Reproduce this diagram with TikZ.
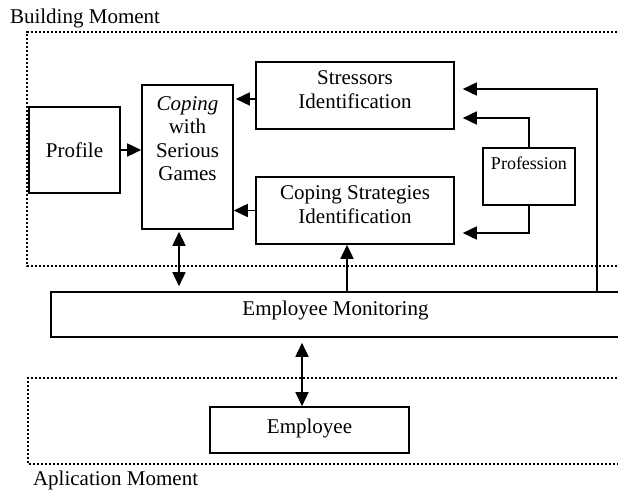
\documentclass[tikz,border=0pt]{standalone}
\usepackage{fontspec}
\setmainfont{Liberation Serif}
\usetikzlibrary{arrows.meta}

\tikzset{
  block/.style={draw, line width=0.8pt, inner sep=0pt, align=center},
  flow/.style={line width=0.8pt, -{Triangle[length=7pt,width=6.5pt]}},
  twoway/.style={line width=0.8pt, {Triangle[length=7pt,width=6.5pt]}-{Triangle[length=7pt,width=6.5pt]}},
  zone/.style={line width=1.2pt, dash pattern=on 1.1pt off 0.9pt},
}

\begin{document}
\begin{tikzpicture}[x=0.5pt,y=-0.5pt,font=\fontsize{10.5}{11.75}\selectfont]
\useasboundingbox (0,0) rectangle (618,491);

\draw[zone] (625,32) -- (27,32) -- (27,266) -- (625,266);
\draw[zone] (625,378) -- (28,378) -- (28,464) -- (625,464);
\node[anchor=west] (build) at (3,18) {Building Moment};
\node[anchor=west] (apli) at (26,480) {Aplication Moment};

\node[block, minimum width=45.5pt, minimum height=43pt] (prof) at (74.5,150) {Profile};
\node[block, minimum width=45.5pt, minimum height=72pt] (cope) at (187.5,157)
  {\textit{Coping}\\with\\Serious\\Games\\[6.75pt]\mbox{}};
\node[block, minimum width=99pt, minimum height=33.5pt] (stress) at (355,95.5)
  {Stressors\\Identification\\[-5.75pt]\mbox{}};
\node[block, minimum width=99pt, minimum height=33.5pt] (strat) at (355,210.5)
  {Coping Strategies\\Identification\\[-5.75pt]\mbox{}};
\node[block, minimum width=46pt, minimum height=28.5pt, font=\fontsize{9}{10.5}\selectfont] (profn) at (529,176.5)
  {Profession\\[2.5pt]\mbox{}};
\node[block, minimum width=284.5pt, minimum height=22.5pt] (mon) at (335.5,314.5)
  {Employee Monitoring\\[-5.75pt]\mbox{}};
\node[block, minimum width=99.5pt, minimum height=23pt] (emp) at (309.5,430)
  {Employee\\[-7.75pt]\mbox{}};

\draw[flow] (prof.east) -- (prof.east -| cope.west);
\draw[flow, shorten >=1pt] ([yshift=-1.75pt]stress.west) -- ([yshift=-1.75pt]stress.west -| cope.east);
\draw[flow] (strat.west) -- (strat.west -| cope.east);
\draw[twoway, shorten <=1pt, shorten >=2.5pt] ([xshift=-4.25pt]cope.south) -- ([xshift=-4.25pt]cope.south |- mon.north);
\draw[flow] ([xshift=-4pt]strat.south |- mon.north) -- ([xshift=-4pt]strat.south);
\coordinate (turn) at (597,89);
\draw[flow, shorten >=4pt] (turn |- mon.north) -- (turn) -- (turn -| stress.east);
\draw[flow, shorten >=4pt] (profn.north) |- ([yshift=-11.25pt]stress.east);
\draw[flow, shorten >=4pt] (profn.south) |- ([yshift=-11.25pt]strat.east);
\draw[twoway, shorten <=2.5pt] ([xshift=-3.75pt]emp.north |- mon.south) -- ([xshift=-3.75pt]emp.north);

\end{tikzpicture}
\end{document}
